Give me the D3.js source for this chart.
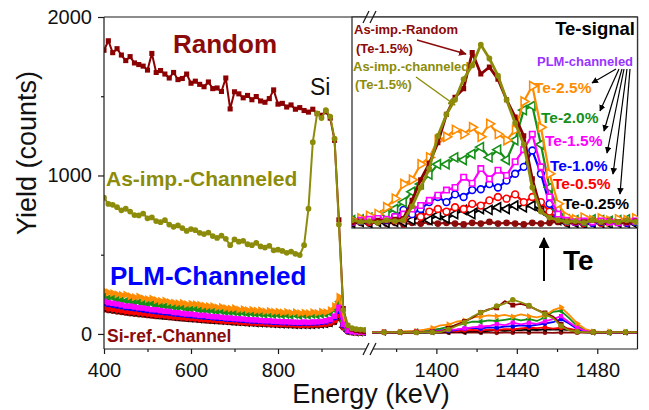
<!DOCTYPE html>
<html>
<head>
<meta charset="utf-8">
<script src="https://cdn.jsdelivr.net/npm/d3@7"></script>
<style>
  body { margin: 0; background: #fff; }
  svg { display: block; }
  text { font-family: "Liberation Sans", Arial, sans-serif; }
</style>
</head>
<body>
<svg id="chart" width="649" height="410"></svg>
<script>
// ---------- RBS spectra: yield (counts) vs energy (keV) ----------

// Low-energy (Si) part of the spectra, 10 keV channels
const leftEnergy = [400,410,420,430,440,450,460,470,480,490,
  500,510,520,530,540,550,560,570,580,590,
  600,610,620,630,640,650,660,670,680,690,
  700,710,720,730,740,750,760,770,780,790,
  800,810,820,830,840,850,860,870,880,890,
  900,910,920,930,940,950,960,970,980,990,1000];

const randomLeft = [1790,1850,1775,1800,1760,1725,1750,1710,1700,1690,
  1665,1770,1650,1662,1640,1615,1650,1605,1612,1640,
  1582,1595,1575,1560,1590,1548,1552,1530,1615,1420,
  1528,1515,1490,1505,1478,1498,1470,1462,1485,1540,
  1450,1455,1432,1445,1418,1428,1410,1400,1418,1390,
  1380,1402,1362,1222,720,160,52,30,22,18,15];

const asImpChLeft = [860,820,815,800,780,790,772,750,748,760,
  730,735,712,705,718,690,676,685,668,650,
  662,655,638,630,640,618,606,620,600,560,
  596,582,588,566,560,574,552,545,556,528,
  532,524,512,520,505,498,560,790,1210,1392,
  1362,1412,1372,1232,690,150,55,36,30,28,25];

const te25Left = [272,262,258,250,246,248,238,232,235,225,
  220,223,213,208,210,201,198,194,196,188,
  190,188,184,178,176,175,168,170,163,160,
  162,154,156,150,152,147,148,142,145,140,
  141,136,139,133,137,131,135,131,137,133,
  140,138,150,175,235,90,30,20,16,15,14];

const te20Left = [238,226,229,217,213,209,206,199,201,193,
  189,191,181,179,176,173,169,166,167,159,
  157,159,151,149,147,146,141,143,137,136,
  135,131,133,127,129,125,126,121,123,119,
  121,117,119,115,119,113,117,115,119,116,
  121,123,131,152,205,80,28,18,15,14,13];

const te15Left = [206,197,193,189,183,176,175,170,165,163,
  158,153,152,147,143,142,135,134,129,126,
  125,121,117,117,112,109,108,105,101,100,
  97,95,94,90,89,88,85,83,83,80,
  79,77,77,75,74,73,75,73,75,76,
  79,83,91,112,168,60,22,15,13,12,11];

const te10Left = [195,188,183,178,174,168,165,161,157,153,
  150,146,142,139,136,133,129,126,123,120,
  117,115,112,109,107,104,101,100,96,95,
  92,90,88,86,84,82,81,79,78,76,
  75,73,72,71,70,69,70,69,71,72,
  75,78,86,105,150,55,20,14,12,11,10];

const te05Left = [168,160,157,152,148,143,140,137,133,130,
  127,124,120,118,115,112,109,107,104,101,
  99,97,94,92,90,88,86,84,82,80,
  78,76,74,72,71,69,68,66,65,64,
  62,61,60,59,58,57,58,57,58,59,
  61,64,70,85,120,45,18,12,10,10,9];

const te025Left = [165,157,154,149,145,140,137,134,130,127,
  124,121,117,115,112,109,106,104,101,98,
  96,94,91,89,87,85,83,81,79,77,
  75,73,71,69,68,66,65,63,62,61,
  59,58,57,56,55,54,55,54,55,56,
  58,61,67,82,115,42,16,11,9,9,8];

const siRefLeft = [155,150,146,141,138,134,130,127,124,121,
  118,115,112,110,107,105,102,99,97,95,
  93,91,88,86,84,82,80,79,77,75,
  73,71,70,68,67,65,64,62,61,60,
  58,57,56,55,54,53,54,53,54,55,
  57,59,63,75,100,40,15,10,9,8,8];

// High-energy (Te) part of the spectra, 4 keV channels
const teEnergy = [1366,1370,1374,1378,1382,1386,1390,1394,1398,1402,
  1406,1410,1414,1418,1422,1426,1430,1434,1438,1442,
  1446,1450,1454,1458,1462,1466,1470,1474,1478,1482,
  1486,1490,1494,1498,1502,1506,1510];

const randomTe  = [10,8,12,9,11,10,12,11,13,14,35,59,78,102,135,155,165,207,182,190,176,152,132,110,60,24,14,10,11,9,10,12,9,11,10,9,11];
const asImpChTe = [11,10,9,12,10,11,9,12,11,12,28,50,72,110,135,152,176,192,216,200,180,152,125,100,50,22,15,12,10,11,9,12,10,11,10,12,10];
const te25Te    = [12,11,13,12,14,17,19,27,37,54,59,77,85,105,109,117,112,120,109,124,112,105,117,150,168,120,66,31,16,13,15,12,14,11,13,12,14];
const te20Te    = [11,12,10,12,13,15,17,19,25,33,45,54,65,77,77,85,82,89,97,85,94,82,105,140,145,100,50,24,13,12,11,13,12,11,12,13,11];
const te15Te    = [10,11,9,10,12,13,14,13,16,19,25,29,35,41,47,50,62,55,72,60,70,64,80,94,112,74,39,19,12,10,11,10,11,10,9,10,11];
const te10Te    = [10,9,11,10,11,12,13,12,16,24,19,25,33,39,33,42,39,47,48,54,50,58,66,74,93,66,31,17,11,10,10,9,10,11,10,9,10];
const te05Te    = [9,10,9,10,11,10,11,12,12,13,19,16,22,25,22,27,25,31,29,35,39,37,42,33,39,33,22,13,10,10,9,10,9,10,10,9,10];
const te025Te   = [8,9,8,9,10,9,10,9,10,10,12,16,12,18,14,19,24,19,25,24,27,25,29,27,29,24,18,12,9,9,8,9,9,8,9,9,8];
const siRefTe   = [8,9,7,8,9,8,10,8,9,7,9,8,10,8,9,8,7,9,8,10,8,9,8,7,9,8,9,10,8,9,7,8,9,8,10,8,9];

// Axis ticks
const yTicks = [0, 1000, 2000];
const yMinor = [500, 1500];
const xTicksLow = [400, 600, 800];
const xMinorLow = [500, 700, 900];
const xTicksHigh = [1400, 1440, 1480];
const xMinorHigh = [1380, 1420, 1460];

// Drawing order: back to front
const series = [
  { left: siRefLeft,   te: siRefTe,   color: "#8b0a0a", shape: "circle", hollow: false },
  { left: te025Left,   te: te025Te,   color: "#000000", shape: "triL",   hollow: true },
  { left: te05Left,    te: te05Te,    color: "#ff0000", shape: "circle", hollow: true },
  { left: te10Left,    te: te10Te,    color: "#0000ff", shape: "circle", hollow: true },
  { left: te20Left,    te: te20Te,    color: "#17901a", shape: "triL",   hollow: true },
  { left: te25Left,    te: te25Te,    color: "#ff8c00", shape: "triR",   hollow: true },
  { left: te15Left,    te: te15Te,    color: "#ff00ff", shape: "square", hollow: true },
  { left: randomLeft,  te: randomTe,  color: "#8b0000", shape: "square", hollow: false, heavy: true },
  { left: asImpChLeft, te: asImpChTe, color: "#8c8c0a", shape: "circle", hollow: false, heavy: true }
];

// ---------- layout ----------
const svg = d3.select("#chart");
const defs = svg.append("defs");
const frame = { left: 104, right: 637.5, top: 17, bottom: 349, breakL: 366, breakR: 373 };

const xLow = d3.scaleLinear().domain([400, 1000]).range([frame.left, 365]);
const xHigh = d3.scaleLinear().domain([1368, 1500]).range([372, frame.right]);
const y = d3.scaleLinear().domain([-95, 2000]).range([frame.bottom, frame.top]);

const inset = { x: 352, y: 17, w: frame.right - 352, h: 211 };
const xIn = d3.scaleLinear().domain([1378, 1511]).range([inset.x, inset.x + inset.w]);
const yIn = d3.scaleLinear().domain([0, 250]).range([230.5, 15.5]);

function addClip(id, x, yy, w, h) {
  defs.append("clipPath").attr("id", id).append("rect")
    .attr("x", x).attr("y", yy).attr("width", w).attr("height", h);
}
addClip("clipLow", frame.left, frame.top, 262, frame.bottom - frame.top);
addClip("clipHigh", 372, frame.top, frame.right - 372, frame.bottom - frame.top);
addClip("clipInset", inset.x, inset.y, inset.w, inset.h);

function arrowMarker(id, color) {
  defs.append("marker").attr("id", id)
    .attr("viewBox", "0 0 10 10").attr("refX", 9).attr("refY", 5)
    .attr("markerWidth", 5.5).attr("markerHeight", 5.5).attr("orient", "auto")
    .append("path").attr("d", "M0,0 L10,5 L0,10 z").attr("fill", color);
}
arrowMarker("arrBlack", "#000");
arrowMarker("arrRed", "#8b0a0a");
arrowMarker("arrOlive", "#8c8c0a");

function symbolPath(shape, size) {
  const type = shape === "circle" ? d3.symbolCircle
    : shape === "square" ? d3.symbolSquare : d3.symbolTriangle;
  return d3.symbol(type, size)();
}
function symbolRotation(shape) {
  return shape === "triR" ? 90 : shape === "triL" ? -90 : 0;
}

function drawSeries(g, xs, ys, energies, values, s, opt) {
  const line = d3.line().x((d, i) => xs(energies[i])).y(d => ys(d));
  g.append("path").datum(values)
    .attr("d", line).attr("fill", "none")
    .attr("stroke", s.color).attr("stroke-width", opt.lw)
    .attr("stroke-linejoin", "round");
  const pts = values.map((v, i) => ({ e: energies[i], v, i })).filter(d => d.i % opt.every === 0);
  g.selectAll(null).data(pts).join("path")
    .attr("d", symbolPath(s.shape, opt.size))
    .attr("transform", d => `translate(${xs(d.e)},${ys(d.v)}) rotate(${symbolRotation(s.shape)})`)
    .attr("fill", opt.hollow ? "#fff" : s.color)
    .attr("stroke", opt.hollow ? s.color : "none")
    .attr("stroke-width", 1.6);
}

// ---------- main spectra ----------
const gLow = svg.append("g").attr("clip-path", "url(#clipLow)");
const gHigh = svg.append("g").attr("clip-path", "url(#clipHigh)");
series.forEach(s => {
  drawSeries(gLow, xLow, y, leftEnergy, s.left, s,
    { lw: s.heavy ? 2 : 2.4, size: s.heavy ? 26 : 30, every: 1, hollow: false });
  drawSeries(gHigh, xHigh, y, teEnergy, s.te, s,
    { lw: 1.8, size: s.heavy ? 24 : 18, every: 2, hollow: false });
});

// ---------- frame and axes ----------
const ink = "#1a1a1a";
const frameG = svg.append("g").attr("stroke", ink).attr("stroke-width", 1.2).attr("fill", "none");
frameG.append("line").attr("x1", frame.left).attr("x2", frame.left).attr("y1", frame.top).attr("y2", frame.bottom);
frameG.append("line").attr("x1", frame.right).attr("x2", frame.right).attr("y1", frame.top).attr("y2", frame.bottom);
[frame.top, frame.bottom].forEach(yy => {
  frameG.append("line").attr("x1", frame.left).attr("x2", frame.breakL).attr("y1", yy).attr("y2", yy);
  frameG.append("line").attr("x1", frame.breakR).attr("x2", frame.right).attr("y1", yy).attr("y2", yy);
});

function styleAxis(g) {
  g.select(".domain").remove();
  g.selectAll(".tick line").attr("stroke", ink).attr("stroke-width", 1.2);
  g.selectAll(".tick text").attr("fill", "#111")
    .attr("font-family", '"Liberation Sans", Arial, sans-serif').attr("font-size", 20);
}
const bottom = `translate(0,${frame.bottom})`;
svg.append("g").attr("transform", bottom)
  .call(d3.axisBottom(xLow).tickValues(xTicksLow).tickSize(5).tickPadding(9).tickFormat(d3.format("d")))
  .call(styleAxis);
svg.append("g").attr("transform", bottom)
  .call(d3.axisBottom(xLow).tickValues(xMinorLow).tickSize(3).tickFormat(() => ""))
  .call(styleAxis);
svg.append("g").attr("transform", bottom)
  .call(d3.axisBottom(xHigh).tickValues(xTicksHigh).tickSize(5).tickPadding(9).tickFormat(d3.format("d")))
  .call(styleAxis);
svg.append("g").attr("transform", bottom)
  .call(d3.axisBottom(xHigh).tickValues(xMinorHigh).tickSize(3).tickFormat(() => ""))
  .call(styleAxis);
svg.append("g").attr("transform", `translate(${frame.left},0)`)
  .call(d3.axisLeft(y).tickValues(yTicks).tickSize(6).tickPadding(6).tickFormat(d3.format("d")))
  .call(styleAxis);
svg.append("g").attr("transform", `translate(${frame.left},0)`)
  .call(d3.axisLeft(y).tickValues(yMinor).tickSize(3).tickFormat(() => ""))
  .call(styleAxis);

// axis break marks
function breakMarks(yy) {
  [0, 7].forEach(dx => {
    svg.append("line")
      .attr("x1", 363 + dx).attr("y1", yy + 6)
      .attr("x2", 369 + dx).attr("y2", yy - 6)
      .attr("stroke", ink).attr("stroke-width", 1.2);
  });
}

// axis titles
svg.append("text").attr("transform", "translate(36,153) rotate(-90)")
  .attr("text-anchor", "middle").attr("font-size", 27).attr("fill", "#111")
  .text("Yield (counts)");
svg.append("text").attr("x", 371).attr("y", 403)
  .attr("text-anchor", "middle").attr("font-size", 27).attr("fill", "#111")
  .text("Energy (keV)");

// ---------- main annotations ----------
function label(x, yy, txt, size, color, weight = "bold", anchor = "start") {
  return svg.append("text").attr("x", x).attr("y", yy)
    .attr("font-size", size).attr("font-weight", weight)
    .attr("fill", color).attr("text-anchor", anchor).text(txt);
}
label(173, 53, "Random", 26, "#8b0a0a");
label(310, 95, "Si", 23, "#111", "normal");
label(106, 186, "As-imp.-Channeled", 21, "#8c8c0a");
label(110, 285, "PLM-Channeled", 26, "#0000ff");
label(107, 342, "Si-ref.-Channel", 17.5, "#8b0a0a");
label(563, 270, "Te", 28, "#000");
svg.append("line").attr("x1", 544).attr("y1", 281).attr("x2", 544).attr("y2", 238)
  .attr("stroke", "#000").attr("stroke-width", 2).attr("marker-end", "url(#arrBlack)");

// ---------- inset: Te signal ----------
svg.append("rect").attr("x", inset.x).attr("y", inset.y)
  .attr("width", inset.w).attr("height", inset.h)
  .attr("fill", "#fff").attr("stroke", "#333").attr("stroke-width", 1.3);
const gIn = svg.append("g").attr("clip-path", "url(#clipInset)");
series.forEach(s => {
  drawSeries(gIn, xIn, yIn, teEnergy, s.te, s, {
    lw: s.heavy ? 2.8 : 2.2,
    size: s.heavy ? 26 : (s.shape === "square" ? 30 : 36),
    every: 1,
    hollow: s.hollow
  });
});
breakMarks(frame.top);
breakMarks(frame.bottom);

label(635, 35, "Te-signal", 18.5, "#000", "bold", "end");
label(354, 34, "As-imp.-Random", 13, "#8b0a0a");
label(356, 53, "(Te-1.5%)", 13, "#8b0a0a");
label(353, 71, "As-imp.-channeled", 13, "#8c8c0a");
label(355, 89, "(Te-1.5%)", 13, "#8c8c0a");
svg.append("line").attr("x1", 417).attr("y1", 40).attr("x2", 466).attr("y2", 54)
  .attr("stroke", "#8b0a0a").attr("stroke-width", 1.4).attr("marker-end", "url(#arrRed)");
svg.append("line").attr("x1", 416).attr("y1", 77).attr("x2", 455).attr("y2", 105)
  .attr("stroke", "#8c8c0a").attr("stroke-width", 1.4).attr("marker-end", "url(#arrOlive)");

label(537, 66, "PLM-channeled", 13, "#9933ff");
const teLabels = [
  { t: "Te-2.5%",  x: 534, y: 93,  c: "#ff8c00", ax: 616, tx: 592, ty: 83 },
  { t: "Te-2.0%",  x: 541, y: 123, c: "#17901a", ax: 619, tx: 600, ty: 111 },
  { t: "Te-1.5%",  x: 545, y: 146, c: "#ff00ff", ax: 622, tx: 604, ty: 131 },
  { t: "Te-1.0%",  x: 550, y: 171, c: "#0000ff", ax: 624, tx: 607, ty: 153 },
  { t: "Te-0.5%",  x: 553, y: 189, c: "#ff0000", ax: 627, tx: 613, ty: 174 },
  { t: "Te-0.25%", x: 563, y: 209, c: "#000000", ax: 630, tx: 620, ty: 194 }
];
teLabels.forEach(d => {
  label(d.x, d.y, d.t, 15.5, d.c);
  svg.append("line").attr("x1", d.ax).attr("y1", 69).attr("x2", d.tx).attr("y2", d.ty)
    .attr("stroke", "#000").attr("stroke-width", 1.2).attr("marker-end", "url(#arrBlack)");
});
</script>
</body>
</html>
